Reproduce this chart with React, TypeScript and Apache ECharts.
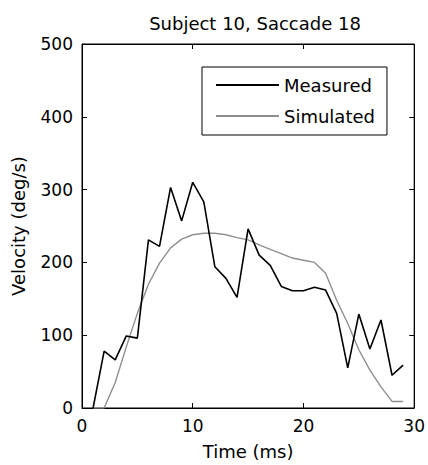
import React, { useEffect, useRef } from "react";
import * as echarts from "echarts";

const titleText = "Subject 10, Saccade 18";
const timeMs = [1, 2, 3, 4, 5, 6, 7, 8, 9, 10, 11, 12, 13, 14, 15, 16, 17, 18, 19, 20, 21, 22, 23, 24, 25, 26, 27, 28, 29];
const measured = [0, 78, 66, 99, 96, 231, 222, 303, 257, 310, 283, 194, 178, 152, 246, 210, 196, 167, 161, 161, 166, 162, 130, 55, 129, 81, 121, 45, 59];
const simulated = [0, 0, 35, 84, 130, 170, 199, 220, 232, 238, 240, 240, 238, 234, 231, 224, 218, 212, 206, 203, 200, 185, 148, 116, 80, 52, 29, 9, 9];
const seriesNames = ["Measured", "Simulated"];
const xTickValues = [0, 10, 20, 30];
const yTickValues = [0, 100, 200, 300, 400, 500];

const FONT = "DejaVu Sans";

function axisBase(ticks: number[]) {
  return {
    type: "value",
    min: ticks[0],
    max: ticks[ticks.length - 1],
    interval: ticks[1] - ticks[0],
    axisLine: { show: true, onZero: false, lineStyle: { color: "#000", width: 1 } },
    axisTick: { show: true, inside: true, length: 5, lineStyle: { color: "#000", width: 1 } },
    splitLine: { show: false },
  };
}

export default function App() {
  const ref = useRef<HTMLDivElement>(null);
  useEffect(() => {
    if (!ref.current) return;
    document.body.style.margin = "0";
    const chart = echarts.init(ref.current, null, { renderer: "svg" });

    const xMin = xTickValues[0];
    const xMax = xTickValues[xTickValues.length - 1];
    const yMin = yTickValues[0];
    const yMax = yTickValues[yTickValues.length - 1];
    // tick length in data units (about 5px on each axis)
    const yTickLen = (yMax - yMin) * 5 / 364;
    const xTickLen = (xMax - xMin) * 5 / 336;

    const frameLines: any[] = [
      [{ coord: [xMin, yMax] }, { coord: [xMax, yMax] }],
      [{ coord: [xMax, yMax] }, { coord: [xMax, yMin] }],
    ];
    xTickValues.slice(1, -1).forEach((v) => {
      frameLines.push([{ coord: [v, yMax] }, { coord: [v, yMax - yTickLen] }]);
    });
    yTickValues.slice(1, -1).forEach((v) => {
      frameLines.push([{ coord: [xMax, v] }, { coord: [xMax - xTickLen, v] }]);
    });

    chart.setOption({
      animation: false,
      title: {
        text: titleText,
        left: 250,
        textAlign: "center",
        top: 9,
        textStyle: { fontFamily: FONT, fontSize: 18, fontWeight: "normal", color: "#000" },
      },
      legend: {
        left: 202,
        top: 67,
        orient: "vertical",
        borderColor: "#000",
        borderWidth: 1,
        padding: [8, 12, 9, 13],
        itemWidth: 63,
        itemHeight: 20,
        itemGap: 11,
        itemStyle: { color: "transparent", borderWidth: 0, opacity: 0 },
        textStyle: { fontFamily: FONT, fontSize: 18, color: "#000", lineHeight: 20 },
        data: seriesNames,
      },
      grid: { left: 82, right: 10, top: 44, bottom: 57, show: true, borderColor: "#000", borderWidth: 1 },
      xAxis: {
        ...axisBase(xTickValues),
        position: "bottom",
        name: "Time (ms)",
        nameLocation: "middle",
        nameGap: 34,
        nameTextStyle: { fontFamily: FONT, fontSize: 18, color: "#000" },
        axisLabel: { margin: 9, fontFamily: FONT, fontSize: 17, color: "#000" },
      },
      yAxis: {
        ...axisBase(yTickValues),
        position: "left",
        name: "Velocity (deg/s)",
        nameLocation: "middle",
        nameGap: 55,
        nameTextStyle: { fontFamily: FONT, fontSize: 18, color: "#000" },
        axisLabel: { margin: 9, fontFamily: FONT, fontSize: 17, color: "#000" },
      },
      series: [
        {
          name: seriesNames[0],
          type: "line",
          symbol: "none",
          data: timeMs.map((t, i) => [t, measured[i]]),
          lineStyle: { color: "#000", width: 1.6 },
          itemStyle: { color: "#000" },
          z: 3,
        },
        {
          name: seriesNames[1],
          type: "line",
          symbol: "none",
          data: timeMs.map((t, i) => [t, simulated[i]]),
          lineStyle: { color: "#8f8f8f", width: 1.4 },
          itemStyle: { color: "#8f8f8f" },
          z: 2,
          markLine: {
            silent: true,
            symbol: ["none", "none"],
            label: { show: false },
            emphasis: { disabled: true },
            lineStyle: { color: "#000", width: 1, type: "solid", opacity: 1 },
            data: frameLines,
          },
        },
      ],
    });

    return () => chart.dispose();
  }, []);
  return <div ref={ref} style={{ width: 428, height: 465, background: "#fff" }} />;
}
